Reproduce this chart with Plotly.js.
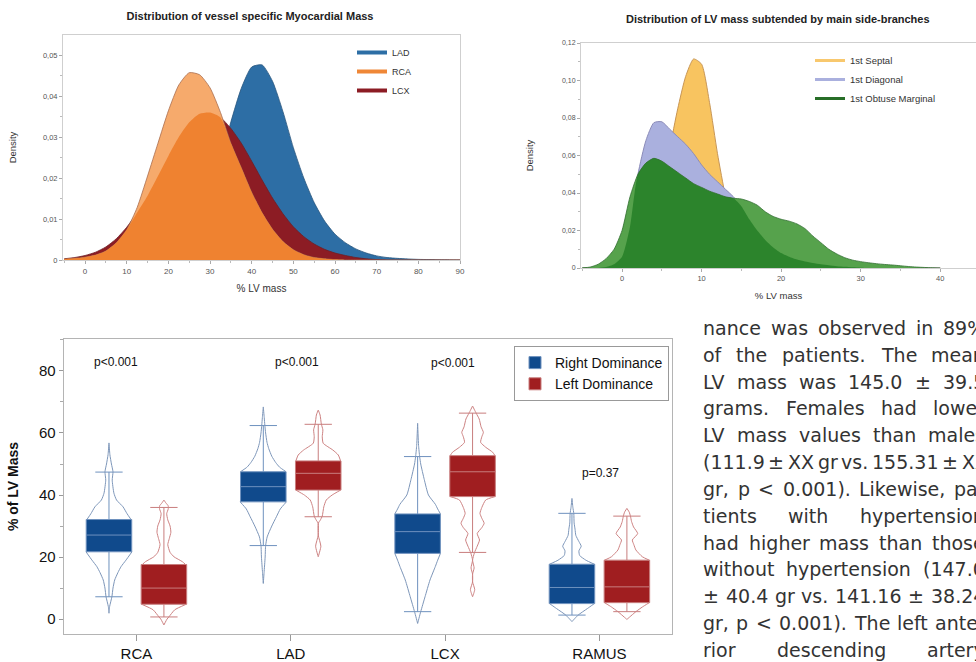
<!DOCTYPE html>
<html><head><meta charset="utf-8">
<script src="https://cdn.plot.ly/plotly-3.0.1.min.js"></script>
<style>html,body{margin:0;padding:0;background:#fff;overflow:hidden}#chart{width:976px;height:662px}</style>
</head><body><div id="chart"></div>
<script>
// ---------- Top-left: vessel specific myocardial mass (density) ----------
const massGrid = [-5,-2.5,0,2.5,5,7.5,10,12.5,15,17.5,20,22.5,25,27.5,30,32.5,35,37.5,40,42.5,45,47.5,50,52.5,55,57.5,60,62.5,65,67.5,70,72.5,75,77.5,80,82.5,85,87.5,90];
const ladDensity = [0,0,0,0,0,0,0,0.0001,0.00013,0.0004,0.001,0.0023,0.0049,0.0092,0.0158,0.0242,0.0337,0.0419,0.0471,0.0476,0.0436,0.0362,0.0274,0.020,0.0140,0.0095,0.0063,0.0042,0.0027,0.0017,0.0010,0.0006,0.0004,0.00025,0.00015,0.0001,0.00005,0.00002,0];
const rcaDensity = [0.0002,0.0004,0.0007,0.0012,0.0022,0.0042,0.0074,0.0128,0.0205,0.0285,0.0364,0.0427,0.0457,0.0452,0.0420,0.0360,0.0285,0.0225,0.0165,0.0115,0.0075,0.0045,0.0025,0.0013,0.0006,0.0003,0.0001,0,0,0,0,0,0,0,0,0,0,0,0];
const lcxDensity = [0.0003,0.0006,0.0011,0.0019,0.0032,0.0052,0.0080,0.0116,0.0157,0.0205,0.0254,0.0300,0.0336,0.0357,0.0360,0.0348,0.0321,0.0285,0.0241,0.0195,0.0151,0.0113,0.0081,0.0057,0.0039,0.0026,0.0017,0.0011,0.0006,0.0003,0.0001,0,0,0,0,0,0,0,0];
const massTickVals = [0,0.01,0.02,0.03,0.04,0.05];
const massTickText = ['0','0,01','0,02','0,03','0,04','0,05'];

// ---------- Top-right: side-branches (density) ----------
const branchGrid = [-5,-4,-3,-2,-1,0,1,2,3,4,5,6,7,8,9,10,11,12,13,14,15,16,17,18,19,20,21,22,23,24,25,26,27,28,29,30,31,32,33,34,35,36,37,38,39,40];
const septalDensity = [0,0,0,0.0002,0.0006,0.0015,0.0036,0.0078,0.0152,0.0271,0.0437,0.0640,0.0849,0.1022,0.1115,0.1087,0.0882,0.0610,0.0380,0.0180,0.0090,0.0055,0.0038,0.0028,0.0021,0.0016,0.0012,0.0009,0.0006,0.0004,0.0002,0.0001,0,0,0,0,0,0,0,0,0,0,0,0,0,0];
const diagonalDensity = [0,0,0,0.0005,0.002,0.006,0.022,0.050,0.068,0.0775,0.0780,0.074,0.070,0.066,0.061,0.055,0.050,0.046,0.042,0.038,0.033,0.026,0.020,0.015,0.011,0.008,0.006,0.0045,0.0035,0.0027,0.002,0.0015,0.001,0.0007,0.0004,0.0002,0,0,0,0,0,0,0,0,0,0];
const obtuseDensity = [0.0001,0.0005,0.002,0.005,0.010,0.020,0.038,0.050,0.056,0.0585,0.057,0.054,0.051,0.048,0.045,0.043,0.041,0.0395,0.038,0.0372,0.0368,0.0355,0.0335,0.030,0.0275,0.026,0.025,0.0235,0.021,0.017,0.0135,0.010,0.0075,0.0055,0.0042,0.0034,0.0028,0.0023,0.0019,0.0016,0.0012,0.0008,0.0005,0.0003,0.0001,0];
const branchTickVals = [0,0.02,0.04,0.06,0.08,0.10,0.12];
const branchTickText = ['0','0,02','0,04','0,06','0,08','0,10','0,12'];

// ---------- Bottom: % of LV mass by dominance ----------
const vessels = ['RCA','LAD','LCX','RAMUS'];
const rightQ1 = [21.7,37.8,21.2,5.0];
const rightMedian = [27.1,42.7,28.2,10.2];
const rightQ3 = [32.1,47.5,33.9,17.7];
const rightLower = [7.2,23.7,2.4,1.3];
const rightUpper = [47.4,62.4,52.4,34.1];
const leftQ1 = [4.8,41.6,39.5,5.3];
const leftMedian = [10.0,47.0,47.5,10.4];
const leftQ3 = [17.6,51.0,52.7,19.0];
const leftLower = [0.7,33.0,21.5,2.4];
const leftUpper = [36.0,62.8,66.4,33.2];
const pValues = ['p<0.001','p<0.001','p<0.001','p=0.37'];
const pValueY = [82.8,82.8,82.6,47.1];
// violin outlines: levels (% LV mass) and half-widths (fraction of category spacing)
const rightViolinLevels = [
  [1.9,4,7.2,10,12.6,15,16.9,19,21.7,32.1,34,36.2,38.4,40.6,44.8,47.5,50,53,56.8],
  [11.5,15,20,23.7,26.5,30,33,35.5,37.8,47.5,49,50.5,52.5,55,57,60,62.5,65,68.4],
  [-1.4,2.4,7.2,12.6,17,19,21.2,33.9,35.5,37,40,45,50,52.4,56,63.1],
  [-0.8,1.3,3.4,5,17.7,19,20.5,22,23.5,25,27,29,31,34,36,38.9]];
const rightViolinWidths = [
  [0,.004,.019,.026,.037,.058,.078,.110,.149,.143,.117,.091,.049,.032,.021,.026,.016,.006,0],
  [0,.005,.012,.015,.025,.055,.085,.11,.15,.148,.105,.08,.055,.035,.024,.015,.01,.006,0],
  [0,.02,.048,.08,.115,.13,.148,.148,.13,.115,.07,.043,.02,.013,.006,0],
  [0,.04,.1,.145,.145,.09,.05,.045,.06,.045,.025,.02,.014,.012,.006,0]];
const leftViolinLevels = [
  [-1.9,0,0.7,3,4.8,17.6,18.5,20.1,21.5,24,26,28,30,32,34,35.5,36.5,37.5,38.4],
  [20.1,23.5,27.1,30.9,31.9,33.2,36.2,38.4,40,41.6,51,52.9,54.5,56.7,58.8,61,62.9,65.8,67.4],
  [7.2,9.5,12,14.5,16.5,19,21.4,23.5,25.5,27.6,29.5,30.9,32.5,34.1,36,38.4,39.5,52.7,53.8,55.4,57,58.8,60.2,62,64.5,66.4,68.7],
  [-0.1,2.4,3.9,5.3,19,20.1,22.3,24,25.5,27.6,29.7,31.5,33.2,34.5,35.7]];
const leftViolinWidths = [
  [0,.02,.032,.07,.145,.14,.12,.065,.04,.025,.035,.045,.04,.025,.018,.028,.028,.012,0],
  [0,.017,0,0,.013,.026,.036,.052,.09,.145,.145,.13,.095,.032,.026,.03,.02,.012,0],
  [0,.014,0,0,.01,0,.012,.03,.045,.03,.06,.075,.06,.048,.06,.085,.145,.145,.13,.085,.052,.06,.07,.055,.043,.023,0],
  [0,.058,.1,.145,.145,.1,.058,.045,.035,.07,.043,.03,.023,.015,0]];

// ---------- Paragraph text ----------
const paragraphLines = [
  'nance was observed in 89%','of the patients. The mean','LV mass was 145.0 ± 39.5',
  'grams. Females had lower','LV mass values than males','(111.9 ± XX gr vs. 155.31 ± XX',
  'gr, p < 0.001). Likewise, pa-','tients with hypertension','had higher mass than those',
  'without hypertension (147.0','± 40.4 gr vs. 141.16 ± 38.24','gr, p < 0.001). The left ante-',
  'rior descending artery'];

// ================= build =================
const W = 976, H = 662;
const fx = p => p / W;
const fy = p => 1 - p / H;
const sans = 'Liberation Sans, Arial, sans-serif';

const traces = [];
function area(x, y, fill, line, lw, xa, ya, extra) {
  return Object.assign({type:'scatter', mode:'lines', x, y, fill:'tozeroy', fillcolor:fill,
    line:{color:line, width:lw, shape:'spline', smoothing:0.6}, xaxis:xa, yaxis:ya,
    showlegend:false, hoverinfo:'skip'}, extra || {});
}
function legendLine(name, color, xa, ya, lg, w) {
  return {type:'scatter', mode:'lines', x:[null], y:[null], name, line:{color, width:w},
    xaxis:xa, yaxis:ya, legend:lg, showlegend:true, hoverinfo:'skip'};
}
// top-left
const rcaLcxOverlap = rcaDensity.map((v,i) => Math.min(v, lcxDensity[i]));
traces.push(area(massGrid, ladDensity, 'rgb(45,110,165)', 'rgb(40,85,125)', 0.8, 'x', 'y'));
traces.push(area(massGrid, lcxDensity, 'rgb(140,28,36)', 'rgb(110,30,35)', 0.8, 'x', 'y'));
traces.push(area(massGrid, rcaDensity, 'rgb(246,170,108)', 'rgb(170,110,80)', 0.8, 'x', 'y'));
traces.push(area(massGrid, rcaLcxOverlap, 'rgb(239,130,48)', 'rgba(0,0,0,0)', 0, 'x', 'y'));
traces.push(legendLine('LAD', 'rgb(45,110,165)', 'x', 'y', 'legend', 4));
traces.push(legendLine('RCA', 'rgb(239,135,55)', 'x', 'y', 'legend', 4));
traces.push(legendLine('LCX', 'rgb(140,28,36)', 'x', 'y', 'legend', 4));
// top-right
const branchOverlap = obtuseDensity.map((v,i) => Math.min(v, Math.max(diagonalDensity[i], septalDensity[i])));
traces.push(area(branchGrid, septalDensity, 'rgb(248,196,96)', 'rgb(200,150,85)', 1, 'x2', 'y2'));
traces.push(area(branchGrid, diagonalDensity, 'rgb(170,176,222)', 'rgb(140,140,185)', 1, 'x2', 'y2'));
traces.push(area(branchGrid, obtuseDensity, 'rgb(86,162,76)', 'rgba(0,0,0,0)', 0, 'x2', 'y2'));
traces.push(area(branchGrid, branchOverlap, 'rgb(44,132,44)', 'rgba(0,0,0,0)', 0, 'x2', 'y2'));
traces.push(area(branchGrid, obtuseDensity, 'rgba(0,0,0,0)', 'rgb(50,110,50)', 0.8, 'x2', 'y2', {fill:'none'}));
traces.push(legendLine('1st Septal', 'rgb(248,200,110)', 'x2', 'y2', 'legend2', 3));
traces.push(legendLine('1st Diagonal', 'rgb(170,176,222)', 'x2', 'y2', 'legend2', 3));
traces.push(legendLine('1st Obtuse Marginal', 'rgb(40,110,40)', 'x2', 'y2', 'legend2', 3));
// bottom
const groupOffset = 0.178, boxWidth = 0.295;
function violin(center, levels, widths, q1, q3) {
  const xs = [], ys = [];
  const lo = [], hi = [];
  levels.forEach((l,i) => { if (l <= q1 + 1e-9) lo.push(i); if (l >= q3 - 1e-9) hi.push(i); });
  for (let k = lo.length-1; k >= 0; k--) { xs.push(center - widths[lo[k]]); ys.push(levels[lo[k]]); }
  for (let k = 0; k < lo.length; k++) { xs.push(center + widths[lo[k]]); ys.push(levels[lo[k]]); }
  xs.push(null); ys.push(null);
  for (let k = 0; k < hi.length; k++) { xs.push(center + widths[hi[k]]); ys.push(levels[hi[k]]); }
  for (let k = hi.length-1; k >= 0; k--) { xs.push(center - widths[hi[k]]); ys.push(levels[hi[k]]); }
  return {xs, ys};
}
traces.push({type:'box', name:'Right Dominance', x: vessels.map((_,i) => i - groupOffset),
  q1:rightQ1, median:rightMedian, q3:rightQ3, lowerfence:rightLower, upperfence:rightUpper,
  width:boxWidth, whiskerwidth:0.6, boxpoints:false, orientation:'v',
  fillcolor:'rgb(16,74,140)', line:{color:'rgb(110,145,190)', width:1},
  xaxis:'x3', yaxis:'y3', legend:'legend3', hoverinfo:'skip'});
traces.push({type:'box', name:'Left Dominance', x: vessels.map((_,i) => i + groupOffset),
  q1:leftQ1, median:leftMedian, q3:leftQ3, lowerfence:leftLower, upperfence:leftUpper,
  width:boxWidth, whiskerwidth:0.6, boxpoints:false, orientation:'v',
  fillcolor:'rgb(160,30,32)', line:{color:'rgb(200,125,125)', width:1},
  xaxis:'x3', yaxis:'y3', legend:'legend3', hoverinfo:'skip'});
vessels.forEach((v,i) => {
  const r = violin(i - groupOffset, rightViolinLevels[i], rightViolinWidths[i], rightQ1[i], rightQ3[i]);
  traces.push({type:'scatter', mode:'lines', x:r.xs, y:r.ys, line:{color:'rgb(125,150,185)', width:1, shape:'spline', smoothing:0.5},
    xaxis:'x3', yaxis:'y3', showlegend:false, hoverinfo:'skip'});
  const l = violin(i + groupOffset, leftViolinLevels[i], leftViolinWidths[i], leftQ1[i], leftQ3[i]);
  traces.push({type:'scatter', mode:'lines', x:l.xs, y:l.ys, line:{color:'rgb(205,130,130)', width:1, shape:'spline', smoothing:0.5},
    xaxis:'x3', yaxis:'y3', showlegend:false, hoverinfo:'skip'});
});

// annotations
const annotations = [];
annotations.push({text:'<b>Distribution of LV mass subtended by main side-branches</b>', xref:'paper', yref:'paper',
  x:fx(778), y:fy(19), xanchor:'center', yanchor:'middle', showarrow:false, font:{family:sans, size:11, color:'#222'}});
const pX = [-0.13, 1.04, 2.05, 3.01];
vessels.forEach((v,i) => annotations.push({text:pValues[i], xref:'x3', yref:'y3', x:pX[i], y:pValueY[i],
  xanchor:'center', yanchor:'middle', showarrow:false, font:{family:sans, size:12, color:'#111'}}));

// justified paragraph
const paraFont = 'DejaVu Sans', paraSize = 19, colLeft = 702, colRight = 984;
const cv = document.createElement('canvas').getContext('2d');
cv.font = paraSize + 'px "' + paraFont + '"';
const spaceW = cv.measureText(' ').width;
paragraphLines.forEach((line, li) => {
  const words = line.split(' ');
  const ws = words.map(w => cv.measureText(w).width);
  const total = ws.reduce((a,b) => a+b, 0);
  let gap = words.length > 1 ? (colRight - colLeft - total) / (words.length - 1) : 0;
  if (gap < spaceW * 0.6) gap = spaceW * 0.6;
  const yPx = 328 + 26.83 * li;
  let xPos = colLeft;
  words.forEach((w,k) => {
    annotations.push({text:w, xref:'paper', yref:'paper', x:fx(xPos), y:fy(yPx), xanchor:'left', yanchor:'middle',
      showarrow:false, borderpad:0, font:{family:paraFont, size:paraSize, color:'#333'}});
    xPos += ws[k] + gap;
  });
});

const axBase = {showgrid:false, zeroline:false, showline:true, mirror:true, ticks:'outside', fixedrange:true};
const layout = {
  width:W, height:H, margin:{l:0, r:0, t:0, b:0}, paper_bgcolor:'#fff', plot_bgcolor:'#fff',
  showlegend:true, boxmode:'overlay',
  title:{text:'<b>Distribution of vessel specific Myocardial Mass</b>', x:fx(250), xanchor:'center', y:fy(16), yanchor:'middle',
    font:{family:sans, size:11, color:'#222'}},
  xaxis: Object.assign({}, axBase, {domain:[fx(63), fx(460)], range:[-5.3, 90], anchor:'y',
    tickvals:[0,10,20,30,40,50,60,70,80,90], linecolor:'#cfcfcf', tickcolor:'#aaa', ticklen:3,
    minor:{dtick:5, tick0:0, ticks:'outside', ticklen:2, tickcolor:'#bbb', showgrid:false},
    tickfont:{family:sans, size:8, color:'#555'},
    title:{text:'% LV mass', font:{family:sans, size:10, color:'#333'}, standoff:10}}),
  yaxis: Object.assign({}, axBase, {domain:[fy(260), fy(35)], range:[0, 0.0549], anchor:'x',
    tickvals:massTickVals, ticktext:massTickText, linecolor:'#cfcfcf', tickcolor:'#aaa', ticklen:3,
    minor:{dtick:0.005, tick0:0, ticks:'outside', ticklen:2, tickcolor:'#bbb', showgrid:false},
    tickfont:{family:sans, size:7.5, color:'#555'},
    title:{text:'Density', font:{family:sans, size:9.5, color:'#333'}, standoff:24}}),
  xaxis2: Object.assign({}, axBase, {domain:[fx(581), 1], range:[-5.16, 44.5], anchor:'y2',
    tickvals:[0,10,20,30,40], linecolor:'#cfcfcf', tickcolor:'#aaa', ticklen:3,
    minor:{dtick:5, tick0:0, ticks:'outside', ticklen:2, tickcolor:'#bbb', showgrid:false},
    tickfont:{family:sans, size:7.5, color:'#555'},
    title:{text:'% LV mass', font:{family:sans, size:9.5, color:'#333'}, standoff:10}}),
  yaxis2: Object.assign({}, axBase, {domain:[fy(268), fy(43)], range:[0, 0.12], anchor:'x2',
    tickvals:branchTickVals, ticktext:branchTickText, linecolor:'#cfcfcf', tickcolor:'#aaa', ticklen:3,
    minor:{dtick:0.01, tick0:0, ticks:'outside', ticklen:2, tickcolor:'#bbb', showgrid:false},
    tickfont:{family:sans, size:7, color:'#555'},
    title:{text:'Density', font:{family:sans, size:9.5, color:'#333'}, standoff:26}}),
  xaxis3: Object.assign({}, axBase, {domain:[fx(63.6), fx(671.5)], range:[-0.472, 3.467], anchor:'y3',
    tickvals:[0,1,2,3], ticktext:vessels, linecolor:'#b4b4b4', tickcolor:'#999', ticklen:6,
    tickfont:{family:sans, size:15, color:'#111'}}),
  yaxis3: Object.assign({}, axBase, {domain:[fy(634), fy(339)], range:[-4.8, 90.3], anchor:'x3',
    tickvals:[0,20,40,60,80], linecolor:'#b4b4b4', tickcolor:'#999', ticklen:4,
    minor:{dtick:10, tick0:0, ticks:'outside', ticklen:3, tickcolor:'#aaa', showgrid:false},
    tickfont:{family:sans, size:15, color:'#111'},
    title:{text:'<b>% of LV Mass</b>', font:{family:sans, size:14, color:'#111'}, standoff:17}}),
  legend:{x:fx(352), y:fy(38), xanchor:'left', yanchor:'top', bgcolor:'rgba(0,0,0,0)', borderwidth:0,
    font:{family:sans, size:9, color:'#333'}, itemwidth:30},
  legend2:{x:fx(810), y:fy(46), xanchor:'left', yanchor:'top', bgcolor:'rgba(0,0,0,0)', borderwidth:0,
    font:{family:sans, size:9.5, color:'#333'}, itemwidth:30},
  legend3:{x:fx(514), y:fy(346), xanchor:'left', yanchor:'top', bgcolor:'#fff', bordercolor:'#999', borderwidth:1,
    font:{family:sans, size:14, color:'#111'}, itemwidth:30},
  annotations
};
Plotly.newPlot('chart', traces, layout, {displayModeBar:false, staticPlot:true});
</script></body></html>
